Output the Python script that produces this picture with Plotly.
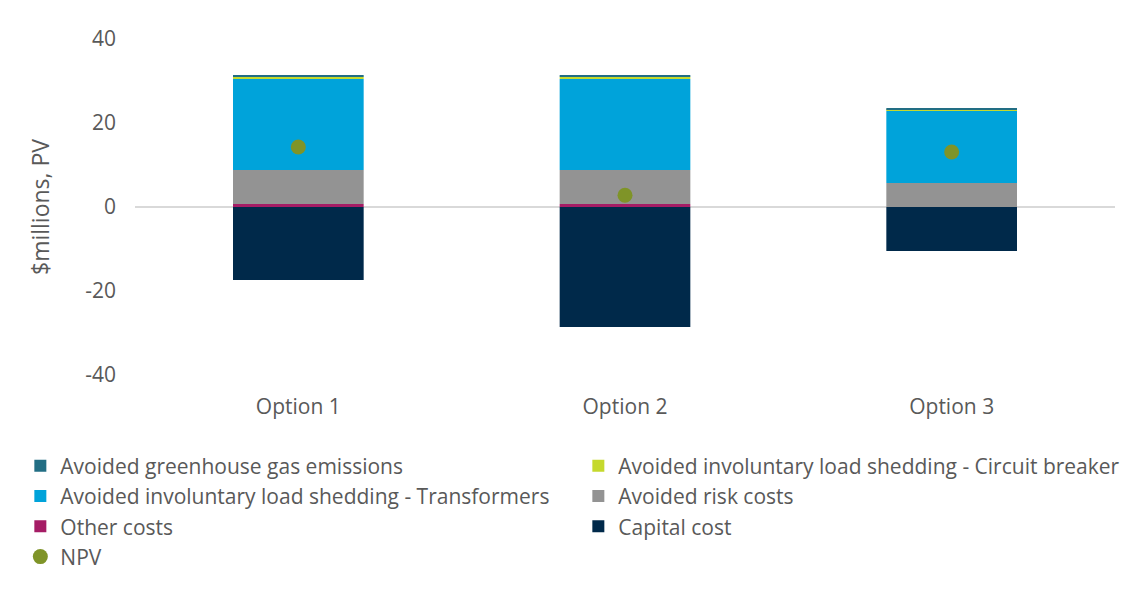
import plotly.graph_objects as go

categories = ["Option 1", "Option 2", "Option 3"]
other_costs = [0.7, 0.7, 0.0]
avoided_risk = [8.1, 8.1, 5.7]
avoided_transformers = [21.7, 21.7, 17.2]
avoided_circuit_breaker = [0.5, 0.5, 0.3]
avoided_ghg = [0.4, 0.4, 0.3]
capital_cost = [-17.4, -28.6, -10.5]
npv = [14.3, 2.8, 13.1]
y_tick_values = [-40, -20, 0, 20, 40]
y_tick_labels = ["-40", "-20", "0", "20", "40"]

FONT = "Open Sans"
TXT = "#595959"

fig = go.Figure()

bar_series = [
    ("Other costs", other_costs, "#A51C65", 5),
    ("Avoided risk costs", avoided_risk, "#939393", 4),
    ("Avoided involuntary load shedding - Transformers", avoided_transformers, "#00A3DA", 3),
    ("Avoided involuntary load shedding - Circuit breaker", avoided_circuit_breaker, "#C5D92D", 2),
    ("Avoided greenhouse gas emissions", avoided_ghg, "#226E84", 1),
    ("Capital cost", capital_cost, "#00294A", 6),
]
for name, vals, col, rank in bar_series:
    fig.add_trace(go.Bar(x=categories, y=vals, name=name, marker=dict(color=col, line=dict(width=0)),
                         legendrank=rank))

fig.add_trace(go.Scatter(x=categories, y=npv, name="NPV", mode="markers",
                         marker=dict(color="#7F9428", size=15), legendrank=7))

fig.update_layout(
    width=1137, height=589,
    barmode="relative", bargap=0.6,
    paper_bgcolor="white", plot_bgcolor="white",
    margin=dict(l=135, r=22, t=39, b=214),
    font=dict(family=FONT, size=21, color=TXT),
    legend=dict(orientation="h", x=-0.117, y=-0.21, xanchor="left", yanchor="top",
                entrywidth=513, entrywidthmode="pixels", traceorder="normal",
                font=dict(size=21, color=TXT), itemwidth=30, tracegroupgap=0),
    showlegend=True,
)
fig.update_yaxes(range=[-40, 40], tickvals=y_tick_values, ticktext=y_tick_labels,
                 showgrid=False, zeroline=True, zerolinecolor="#D9D9D9",
                 zerolinewidth=2, showline=False, ticklabelstandoff=18,
                 title=dict(text="$millions, PV", font=dict(size=23, color=TXT), standoff=29))
fig.update_xaxes(showgrid=False, showline=False, ticklabelstandoff=17)

fig.write_html("out.html")
